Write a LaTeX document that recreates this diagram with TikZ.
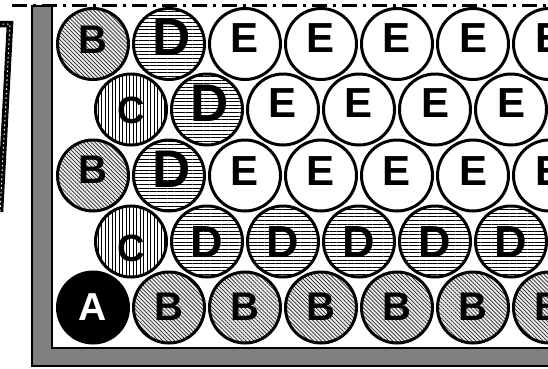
\documentclass[tikz,border=0pt]{standalone}
\usepackage{fontspec}
\setmainfont{Liberation Sans}
\usetikzlibrary{patterns.meta}
\tikzset{
  ball/.style={circle, draw=black, line width=3pt, minimum size=71pt, inner sep=0pt},
  bB/.style={ball, preaction={fill=gray!15}, pattern={Lines[angle=-45,distance=2.8pt,line width=0.7pt]}, pattern color=black!85},
  bC/.style={ball, preaction={fill=white}, pattern={Lines[angle=90,distance=3.5pt,line width=0.8pt]}},
  bD/.style={ball, preaction={fill=white}, pattern={Lines[angle=0,distance=3.6pt,line width=0.85pt]}},
  bE/.style={ball, fill=white},
  bA/.style={ball, fill=black},
  lt/.style={inner sep=0pt, text depth=0pt},
  fB/.style={lt, font=\bfseries\fontsize{40pt}{40pt}\selectfont, text height=28.5pt},
  fE/.style={lt, font=\bfseries\fontsize{42pt}{42pt}\selectfont, text height=30pt},
  fDbig/.style={lt, font=\bfseries\fontsize{53pt}{53pt}\selectfont, text height=38pt},
  fD/.style={lt, font=\bfseries\fontsize{45pt}{45pt}\selectfont, text height=32pt},
  fC/.style={lt, font=\bfseries\fontsize{38pt}{38pt}\selectfont, text height=27pt},
  fA/.style={lt, font=\bfseries\fontsize{39pt}{39pt}\selectfont, text height=28pt, text=white},
}
\begin{document}
\begin{tikzpicture}[x=1pt,y=-1pt]
\useasboundingbox (0,0) rectangle (548,368);
\clip (0,0) rectangle (548,368);
% wall
\filldraw[fill=black!50, draw=black, line width=2.8pt]
  (32,6) -- (32,366) -- (560,366) -- (560,348) -- (52,348) -- (52,6) -- cycle;
% top dash-dot line
\draw[line width=3pt, dash pattern=on 15pt off 6pt on 3pt off 6pt] (12,5) -- (548,5);
% left strip
\draw[line width=6.5pt, line join=miter] (-2,24) -- (10,24) -- (0,212);
\draw[white, line width=1pt, dash pattern=on 1.5pt off 3pt] (-2,24) -- (10,24) -- (0,212);
% row 1
\node[bB] (c11) at (93,44) {};
\node[bD] (c12) at (169,44) {};
\node[bE] (c13) at (245,44) {};
\node[bE] (c14) at (321,44) {};
\node[bE] (c15) at (397,44) {};
\node[bE] (c16) at (473,44) {};
\node[bE] (c17) at (549,44) {};
% row 2
\node[bC] (c21) at (131,109.5) {};
\node[bD] (c22) at (207,109.5) {};
\node[bE] (c23) at (283,109.5) {};
\node[bE] (c24) at (359,109.5) {};
\node[bE] (c25) at (435,109.5) {};
\node[bE] (c26) at (511,109.5) {};
% row 3
\node[bB] (c31) at (93,175.5) {};
\node[bD] (c32) at (169,175.5) {};
\node[bE] (c33) at (245,175.5) {};
\node[bE] (c34) at (321,175.5) {};
\node[bE] (c35) at (397,175.5) {};
\node[bE] (c36) at (473,175.5) {};
\node[bE] (c37) at (549,175.5) {};
% row 4
\node[bC] (c41) at (131,241.5) {};
\node[bD] (c42) at (207,241.5) {};
\node[bD] (c43) at (283,241.5) {};
\node[bD] (c44) at (359,241.5) {};
\node[bD] (c45) at (435,241.5) {};
\node[bD] (c46) at (511,241.5) {};
% row 5
\node[bA] (c51) at (93,307.5) {};
\node[bB] (c52) at (169,307.5) {};
\node[bB] (c53) at (245,307.5) {};
\node[bB] (c54) at (321,307.5) {};
\node[bB] (c55) at (397,307.5) {};
\node[bB] (c56) at (473,307.5) {};
\node[bB] (c57) at (549,307.5) {};
% letters row 1
\node[fB] (l11) at (93,39) {B};
\node[fDbig] (l12) at (172,36) {D};
\node[fE] (l13) at (245,37) {E};
\node[fE] (l14) at (321,37) {E};
\node[fE] (l15) at (397,37) {E};
\node[fE] (l16) at (473,37) {E};
\node[fE] (l17) at (549,37) {E};
% letters row 2
\node[fC] (l21) at (131,110) {C};
\node[fDbig] (l22) at (210,102) {D};
\node[fE] (l23) at (283,102) {E};
\node[fE] (l24) at (359,102) {E};
\node[fE] (l25) at (435,102) {E};
\node[fE] (l26) at (511,102) {E};
% letters row 3
\node[fB] (l31) at (93,169) {B};
\node[fDbig] (l32) at (172,168.5) {D};
\node[fE] (l33) at (245,170) {E};
\node[fE] (l34) at (321,170) {E};
\node[fE] (l35) at (397,170) {E};
\node[fE] (l36) at (473,170) {E};
\node[fE] (l37) at (549,170) {E};
% letters row 4
\node[fC] (l41) at (131,248) {C};
\node[fD] (l42) at (207,241) {D};
\node[fD] (l43) at (283,241) {D};
\node[fD] (l44) at (359,241) {D};
\node[fD] (l45) at (435,241) {D};
\node[fD] (l46) at (511,241) {D};
% letters row 5
\node[fA] (l51) at (93,306.5) {A};
\node[fB] (l52) at (169,306.5) {B};
\node[fB] (l53) at (245,306.5) {B};
\node[fB] (l54) at (321,306.5) {B};
\node[fB] (l55) at (397,306.5) {B};
\node[fB] (l56) at (473,306.5) {B};
\node[fB] (l57) at (549,306.5) {B};
\end{tikzpicture}
\end{document}
